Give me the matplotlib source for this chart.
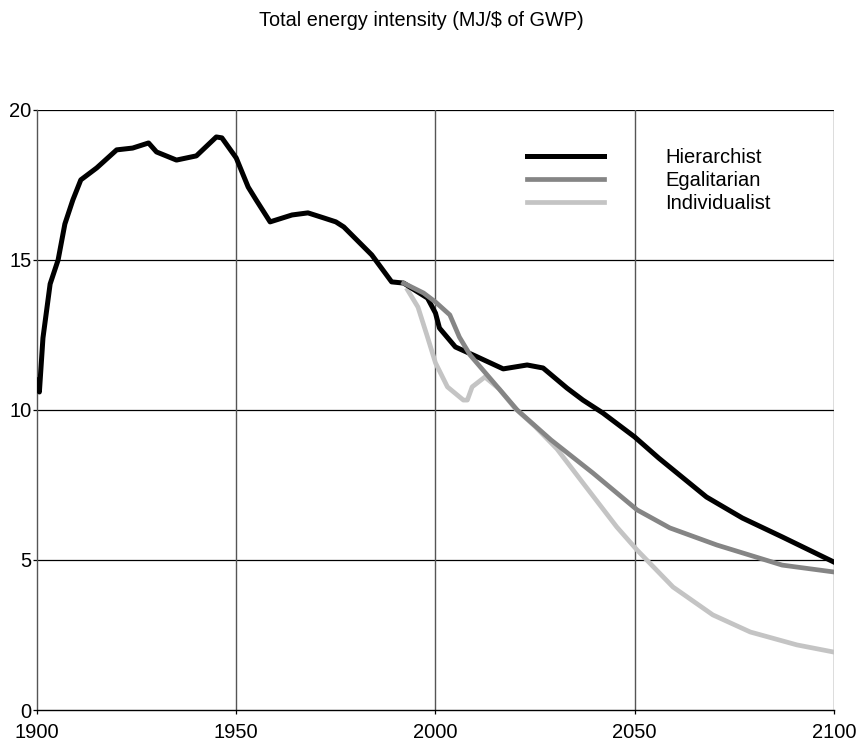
import matplotlib
matplotlib.use("Agg")
import matplotlib.pyplot as plt

# ── data ────────────────────────────────────────────────────────────────────
hier_years = [1900, 1900.6, 1901.5, 1903.3, 1905.3, 1907, 1909, 1911, 1915,
              1920, 1924, 1928, 1930, 1935, 1940, 1945, 1946.4, 1950, 1953,
              1955, 1958.5, 1964, 1968, 1972, 1975, 1977, 1984, 1989, 1992,
              1998, 2000, 2001, 2005, 2010, 2017, 2023, 2027, 2033, 2037,
              2042, 2050, 2056, 2068, 2077, 2087, 2100]
hier_vals = [11.0, 10.6, 12.4, 14.2, 15.0, 16.2, 17.0, 17.67, 18.07,
             18.67, 18.73, 18.9, 18.6, 18.33, 18.47, 19.1, 19.07, 18.4, 17.43,
             17.0, 16.27, 16.5, 16.57, 16.4, 16.27, 16.1, 15.17, 14.27, 14.23,
             13.73, 13.23, 12.73, 12.1, 11.8, 11.37, 11.5, 11.4, 10.73, 10.33,
             9.9, 9.1, 8.4, 7.1, 6.4, 5.77, 4.93]

egal_years = [1992, 1997, 2000, 2003.6, 2006, 2008.7, 2020.5, 2029, 2039.5,
              2050.6, 2058.8, 2070.6, 2087, 2100]
egal_vals = [14.23, 13.9, 13.6, 13.17, 12.43, 11.83, 10.0, 9.0, 7.9,
             6.67, 6.07, 5.5, 4.83, 4.6]

indiv_years = [1993, 1995.6, 1998, 2000, 2003, 2007, 2008, 2009.2, 2012.4,
               2016, 2020, 2025, 2030.5, 2037, 2045.5, 2050.6, 2059.6, 2069.6,
               2079, 2090.7, 2100]
indiv_vals = [14.0, 13.43, 12.43, 11.57, 10.77, 10.33, 10.33, 10.77, 11.1,
              10.7, 10.05, 9.45, 8.7, 7.57, 6.1, 5.33, 4.1, 3.17,
              2.6, 2.17, 1.93]

x_ticks = [1900, 1950, 2000, 2050, 2100]
y_ticks = [0, 5, 10, 15, 20]

TEXT_FONT = ["Liberation Sans", "DejaVu Sans"]

fig = plt.figure(figsize=(8.62, 7.43), dpi=100)
ax = fig.add_axes([0.0429, 0.0444, 0.9246, 0.8076])

ax.plot(indiv_years, indiv_vals, color="#c4c4c4", lw=3.4, zorder=3,
        solid_joinstyle="round", label="Individualist")
ax.plot(hier_years, hier_vals, color="black", lw=3.6, zorder=4,
        solid_joinstyle="round", label="Hierarchist")
ax.plot(egal_years, egal_vals, color="#858585", lw=3.4, zorder=5,
        solid_joinstyle="round", label="Egalitarian")

ax.set_xlim(1900, 2100)
ax.set_ylim(0, 20)
ax.set_xticks(x_ticks)
ax.set_yticks(y_ticks)

# grid: black horizontals, grey verticals
for y in y_ticks[1:]:
    ax.axhline(y, color="black", lw=0.9, zorder=1)
for x in x_ticks[1:]:
    ax.axvline(x, color="#555555", lw=1.0, zorder=1)

for side in ("top", "right"):
    ax.spines[side].set_visible(False)
ax.spines["left"].set_color("#555555")
ax.spines["left"].set_linewidth(1.0)
ax.spines["bottom"].set_color("black")
ax.spines["bottom"].set_linewidth(1.0)

ax.tick_params(axis="both", direction="out", length=3, width=0.9,
               labelsize=14.5)
ax.tick_params(axis="x", pad=6)
ax.tick_params(axis="y", pad=1)
for lab in ax.get_xticklabels() + ax.get_yticklabels():
    lab.set_family(TEXT_FONT)

handles, labels = ax.get_legend_handles_labels()
order = [1, 2, 0]
leg = ax.legend([handles[i] for i in order], [labels[i] for i in order],
                loc="upper left", bbox_to_anchor=(0.605, 0.95),
                frameon=False, handlelength=3.8, handletextpad=3.05,
                labelspacing=0.2, borderaxespad=0,
                prop={"family": TEXT_FONT, "size": 14.5})

fig.text(0.489, 0.973, "Total energy intensity (MJ/$ of GWP)",
         ha="center", va="center", fontsize=14.3, family=TEXT_FONT)

fig.savefig("out.png", dpi=100)
